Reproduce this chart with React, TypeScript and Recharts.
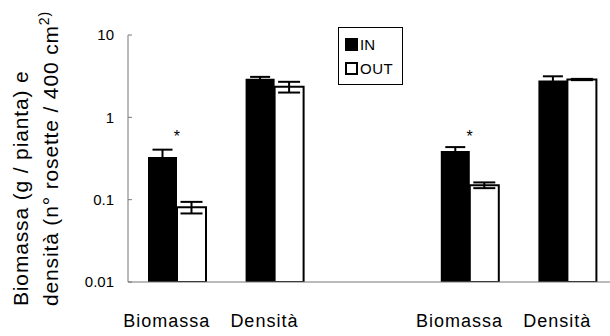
import React from 'react';
import {
  ComposedChart,
  Bar,
  Scatter,
  ErrorBar,
  XAxis,
  YAxis,
  Legend,
} from 'recharts';

const categories = ['Biomassa', 'Densità', '', 'Biomassa', 'Densità'];
const inValues = [0.33, 2.95, null, 0.39, 2.8];
const inErrors = [0.075, 0.15, null, 0.045, 0.35];
const outValues = [0.081, 2.35, null, 0.15, 2.88];
const outErrors = [0.013, 0.35, null, 0.012, 0.05];
const significance = [0.65, null, null, 0.65, null];
const yTicks = [0.01, 0.1, 1, 10];

const data = categories.map((name, i) => ({
  key: `c${i}`,
  name,
  inVal: inValues[i],
  inErr: inErrors[i],
  outVal: outValues[i],
  outErr: outErrors[i],
  star: significance[i],
}));

const FONT = '"Liberation Sans", Arial, sans-serif';

const YTick = (props: any) => {
  const { x, y, payload } = props;
  return (
    <g>
      <line x1={x} y1={y} x2={x + 4} y2={y} stroke="#777" strokeWidth={1} />
      <text x={x - 14} y={y} dy="0.35em" textAnchor="end" fontSize={15} fontFamily={FONT} fill="#000">
        {String(payload.value)}
      </text>
    </g>
  );
};

const XTick = (props: any) => {
  const { x, y, index } = props;
  const label = categories[index];
  if (!label) return null;
  return (
    <text x={x - 10} y={y + 45} textAnchor="middle" fontSize={18} style={{ letterSpacing: '1px' }} fontFamily={FONT} fill="#000">
      {label}
    </text>
  );
};

const Star = (props: any) => {
  const { cx, cy, payload } = props;
  if (payload.star == null) return null;
  return (
    <text x={cx} y={cy + 9} textAnchor="middle" fontSize={16} fontFamily={FONT} fill="#000">
      *
    </text>
  );
};

const LegendBox = () => (
  <div
    style={{
      border: '1px solid #000',
      width: 65,
      height: 58,
      boxSizing: 'border-box',
      background: '#fff',
      fontFamily: FONT,
      fontSize: 15,
      padding: '8px 0 0 6px',
    }}
  >
    <div style={{ display: 'flex', alignItems: 'center', height: 16, marginBottom: 8 }}>
      <span style={{ display: 'inline-block', width: 13, height: 13, background: '#000', marginRight: 2 }} />
      <span>IN</span>
    </div>
    <div style={{ display: 'flex', alignItems: 'center', height: 16 }}>
      <span style={{ display: 'inline-block', width: 13, height: 13, boxSizing: 'border-box', border: '2px solid #000', background: '#fff', marginRight: 2 }} />
      <span style={{ letterSpacing: '0.5px' }}>OUT</span>
    </div>
  </div>
);

const YLabel = () => (
  <g fontFamily={FONT} fontSize={21} fill="#000">
    <text transform="translate(28,306) rotate(-90)" textAnchor="start" style={{ letterSpacing: '0.85px' }}>
      Biomassa (g / pianta) e
    </text>
    <text transform="translate(58,306) rotate(-90)" textAnchor="start" style={{ letterSpacing: '0.85px' }}>
      densità (n° rosette / 400 cm
      <tspan fontSize={14} dy={-9}>2)</tspan>
    </text>
  </g>
);

export default function App() {
  return (
    <div style={{ position: 'absolute', left: 0, top: 0, width: 610, height: 336, overflow: 'hidden', background: '#fff' }}>
      <ComposedChart
        width={616}
        height={336}
        data={data}
        margin={{ top: 35, right: 0, bottom: 0, left: 0 }}
        barGap={0}
        barSize={29}
      >
        <XAxis
          dataKey="key"
          height={54}
          axisLine={{ stroke: '#777', strokeWidth: 1 }}
          tickLine={false}
          tickSize={0}
          tickMargin={0}
          tick={<XTick />}
          interval={0}
        />
        <YAxis
          type="number"
          scale="log"
          domain={[0.01, 10]}
          ticks={yTicks}
          allowDataOverflow
          width={128}
          axisLine={{ stroke: '#777', strokeWidth: 1 }}
          tickLine={false}
          tickSize={0}
          tickMargin={0}
          tick={<YTick />}
          label={{ content: () => <YLabel /> }}
        />
        <Legend
          layout="vertical"
          align="center"
          verticalAlign="middle"
          content={() => <LegendBox />}
          wrapperStyle={{ left: 338, top: 27, width: 65, height: 58 }}
        />
        <Bar dataKey="inVal" name="IN" fill="#000" isAnimationActive={false}>
          <ErrorBar dataKey="inErr" width={10} stroke="#000" strokeWidth={2} direction="y" />
        </Bar>
        <Bar dataKey="outVal" name="OUT" fill="#fff" stroke="#000" strokeWidth={2} isAnimationActive={false}>
          <ErrorBar dataKey="outErr" width={11} stroke="#000" strokeWidth={2} direction="y" />
        </Bar>
        <Scatter dataKey="star" shape={<Star />} isAnimationActive={false} legendType="none" />
      </ComposedChart>
    </div>
  );
}
